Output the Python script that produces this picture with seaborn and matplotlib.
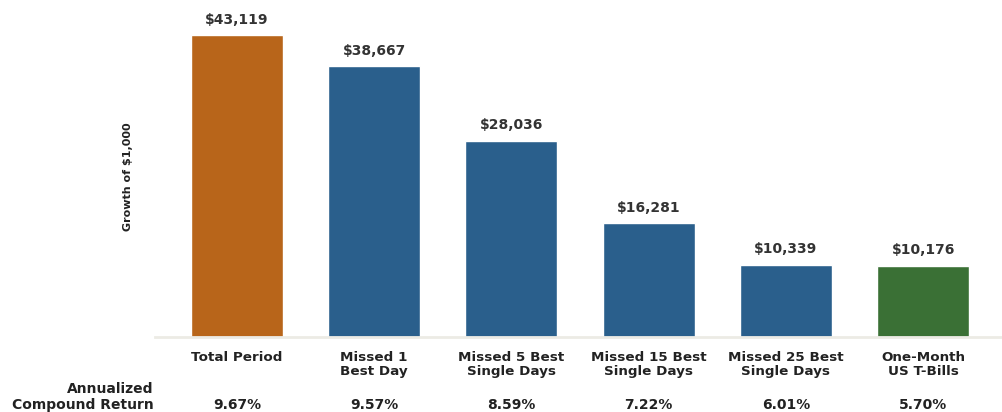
import matplotlib
matplotlib.use("Agg")
import matplotlib.pyplot as plt
import seaborn as sns
import pandas as pd
from matplotlib.transforms import blended_transform_factory

categories = ["Total Period", "Missed 1\nBest Day", "Missed 5 Best\nSingle Days",
              "Missed 15 Best\nSingle Days", "Missed 25 Best\nSingle Days", "One-Month\nUS T-Bills"]
values = [43119, 38667, 28036, 16281, 10339, 10176]
returns = ["9.67%", "9.57%", "8.59%", "7.22%", "6.01%", "5.70%"]
colors = ["#B8651A", "#2A5F8C", "#2A5F8C", "#2A5F8C", "#2A5F8C", "#3A7035"]

sns.set_style("white")
plt.rcParams['font.family'] = ['DejaVu Sans']

df = pd.DataFrame({"cat": categories, "val": values})

fig = plt.figure(figsize=(10.02, 4.12), dpi=100)
ax = fig.add_axes([0.155, 0.182, 0.845, 0.818])

sns.barplot(data=df, x="cat", y="val", hue="cat", palette=colors, legend=False,
            width=0.67, ax=ax, saturation=1)

ax.set_xlim(-0.594, 5.575)
ax.set_ylim(0, 48100)

for cont in ax.containers:
    ax.bar_label(cont, labels=[f"${v:,.0f}" for v in cont.datavalues], padding=6,
                 fontsize=10, fontweight="bold", color="#333333")

ax.set_yticks([])
ax.set_xlabel("")
ax.set_ylabel("Growth of $1,000", fontsize=8, fontweight="bold", color="#222222")
ax.yaxis.set_label_coords(-0.026, 0.475)
ax.tick_params(axis="x", length=0, pad=10, labelsize=9.7, colors="#222222")
for lbl in ax.get_xticklabels():
    lbl.set_fontweight("bold")
    lbl.set_linespacing(1.15)

for side in ["top", "right", "left"]:
    ax.spines[side].set_visible(False)
ax.spines["bottom"].set_color("#ECEBE5")
ax.spines["bottom"].set_linewidth(2)

trans = blended_transform_factory(ax.transData, ax.transAxes)
for i, r in enumerate(returns):
    ax.text(i, -0.202, r, transform=trans, ha="center", va="center",
            fontsize=10, fontweight="bold", color="#222222")

ax.text(-0.002, -0.178, "Annualized\nCompound Return", transform=ax.transAxes,
        ha="right", va="center", fontsize=10, fontweight="bold", color="#222222",
        linespacing=1.12)

fig.savefig("out.png", dpi=100)
